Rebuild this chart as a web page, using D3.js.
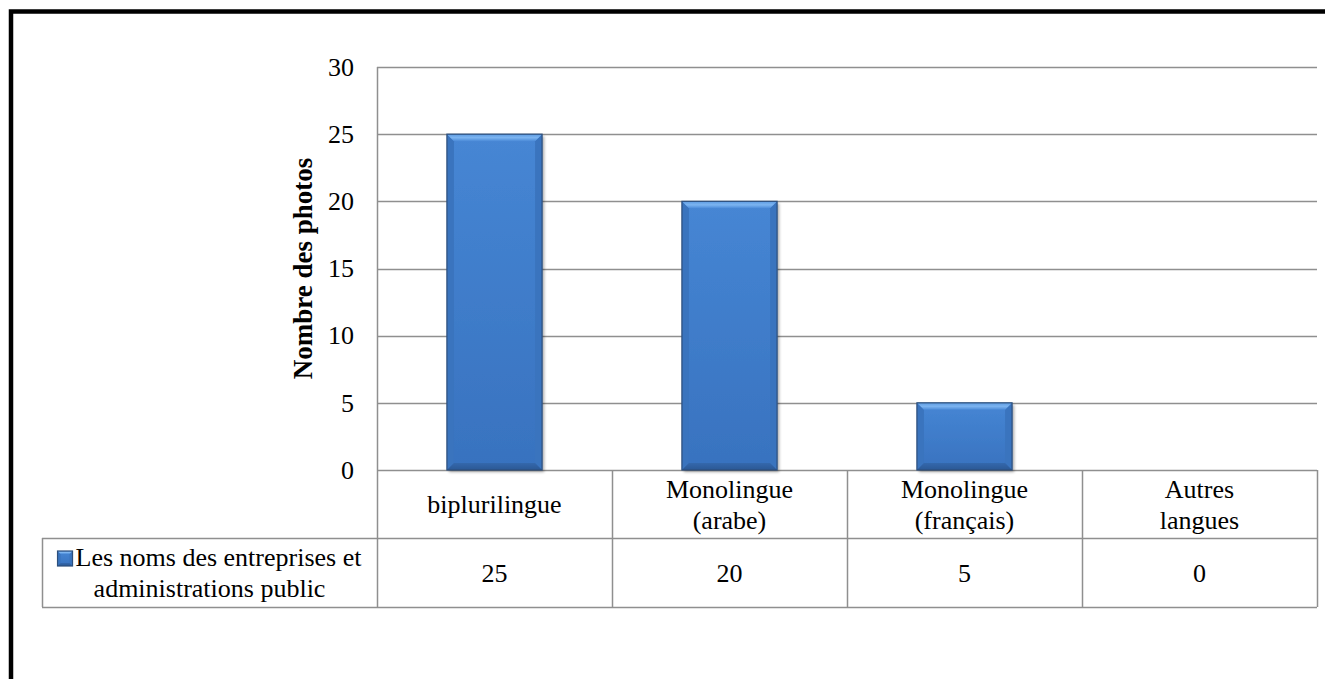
<!DOCTYPE html>
<html>
<head>
<meta charset="utf-8">
<script src="https://cdn.jsdelivr.net/npm/d3@7/dist/d3.min.js"></script>
<style>
  html, body { margin: 0; padding: 0; background: #ffffff; }
  svg { display: block; }
</style>
</head>
<body>
<svg id="chart" width="1325" height="679" font-family="'Liberation Serif', 'Times New Roman', serif"></svg>
<script>
// Chart data
const categories = ["biplurilingue", "Monolingue\n(arabe)", "Monolingue\n(français)", "Autres\nlangues"];
const values = [25, 20, 5, 0];
const seriesName = "Les noms des entreprises et\nadministrations public";
const yTicks = [0, 5, 10, 15, 20, 25, 30];
const yTitle = "Nombre des photos";

const SERIF = "'Liberation Serif', 'Times New Roman', serif";
const svg = d3.select("#chart");
const W = 1325, H = 679;

// Layout
const plot = { left: 377, right: 1317, top: 67, bottom: 470 };
const rowH = 68;            // height of each table row
const legendLeft = 42;      // left edge of the series-name cell
const fontSize = 26;
const lineH = 31;
const gridColor = "#8f8f8f";

const x = d3.scaleBand().domain(categories).range([plot.left, plot.right]).paddingInner(0).paddingOuter(0);
const y = d3.scaleLinear().domain([0, 30]).range([plot.bottom, plot.top]);

// Outer frame (thick black border along top and left)
svg.append("rect")
  .attr("x", 11).attr("y", 11.5)
  .attr("width", W + 20).attr("height", H + 20)
  .attr("fill", "none").attr("stroke", "#000").attr("stroke-width", 4.5);

// Gradients for the bevelled bars
const defs = svg.append("defs");
const g1 = defs.append("linearGradient").attr("id", "barFill").attr("x1", 0).attr("y1", 0).attr("x2", 0).attr("y2", 1);
g1.append("stop").attr("offset", "0%").attr("stop-color", "#4686d4");
g1.append("stop").attr("offset", "100%").attr("stop-color", "#3872bf");
const gTop = defs.append("linearGradient").attr("id", "bevelTop").attr("x1", 0).attr("y1", 0).attr("x2", 0).attr("y2", 1);
gTop.append("stop").attr("offset", "0%").attr("stop-color", "#5d9be2");
gTop.append("stop").attr("offset", "50%").attr("stop-color", "#7cb4f0");
gTop.append("stop").attr("offset", "100%").attr("stop-color", "#4a8ad8");
const gBot = defs.append("linearGradient").attr("id", "bevelBot").attr("x1", 0).attr("y1", 0).attr("x2", 0).attr("y2", 1);
gBot.append("stop").attr("offset", "0%").attr("stop-color", "#3468ad");
gBot.append("stop").attr("offset", "100%").attr("stop-color", "#2b5894");
const shadow = defs.append("filter").attr("id", "barShadow").attr("x", "-10%").attr("y", "-10%").attr("width", "130%").attr("height", "130%");
shadow.append("feGaussianBlur").attr("in", "SourceAlpha").attr("stdDeviation", 1.5).attr("result", "b");
shadow.append("feOffset").attr("in", "b").attr("dx", 1.5).attr("dy", 1.5).attr("result", "o");
shadow.append("feComponentTransfer").attr("in", "o").attr("result", "s")
  .append("feFuncA").attr("type", "linear").attr("slope", 0.35);
const merge = shadow.append("feMerge");
merge.append("feMergeNode").attr("in", "s");
merge.append("feMergeNode").attr("in", "SourceGraphic");

// Horizontal gridlines
svg.append("g").selectAll("line")
  .data(yTicks)
  .join("line")
  .attr("x1", plot.left).attr("x2", plot.right)
  .attr("y1", d => Math.round(y(d)) + 0.5).attr("y2", d => Math.round(y(d)) + 0.5)
  .attr("stroke", gridColor).attr("stroke-width", 1.5);

// Y axis tick labels
const yAxis = svg.append("g")
  .attr("transform", `translate(${plot.left},0)`)
  .call(d3.axisLeft(y).tickValues(yTicks).tickSize(0).tickPadding(23).tickFormat(d3.format("d")));
yAxis.attr("font-family", SERIF).attr("font-size", fontSize);
yAxis.select(".domain").remove();
yAxis.selectAll("text").attr("fill", "#000");

// Y axis title
svg.append("text")
  .attr("transform", `translate(312,${(plot.top + plot.bottom) / 2}) rotate(-90)`)
  .attr("text-anchor", "middle")
  .attr("font-family", SERIF)
  .attr("font-size", 27).attr("font-weight", "bold")
  .text(yTitle);

// Bevelled bar drawing
function drawBar(g, bx, by, bw, bh, b) {
  g.append("rect").attr("x", bx).attr("y", by).attr("width", bw).attr("height", bh)
    .attr("fill", "url(#barFill)").attr("filter", "url(#barShadow)");
  const bb = Math.min(b, bh / 2);
  // left and right faces
  g.append("polygon")
    .attr("points", [[bx, by], [bx + bb, by + bb], [bx + bb, by + bh - bb], [bx, by + bh]].join(" "))
    .attr("fill", "#3a74be");
  g.append("polygon")
    .attr("points", [[bx + bw, by], [bx + bw - bb, by + bb], [bx + bw - bb, by + bh - bb], [bx + bw, by + bh]].join(" "))
    .attr("fill", "#3a74be");
  // top face (light)
  g.append("polygon")
    .attr("points", [[bx, by], [bx + bw, by], [bx + bw - bb, by + bb], [bx + bb, by + bb]].join(" "))
    .attr("fill", "url(#bevelTop)");
  // bottom face (dark)
  g.append("polygon")
    .attr("points", [[bx, by + bh], [bx + bw, by + bh], [bx + bw - bb, by + bh - bb], [bx + bb, by + bh - bb]].join(" "))
    .attr("fill", "url(#bevelBot)");
  g.append("rect").attr("x", bx).attr("y", by).attr("width", bw).attr("height", bh)
    .attr("fill", "none").attr("stroke", "#2d4f7c").attr("stroke-width", 1.2);
}

// Bars
const barW = x.bandwidth() * 0.405;
const barsG = svg.append("g");
categories.forEach((c, i) => {
  const v = values[i];
  if (v <= 0) return;
  const bx = x(c) + (x.bandwidth() - barW) / 2;
  const by = y(v);
  drawBar(barsG, bx, by, barW, y(0) - by, 7);
});

// Data table below the plot
const row1Top = plot.bottom, row1Bot = plot.bottom + rowH, row2Bot = plot.bottom + 2 * rowH + 1;
const tbl = svg.append("g").attr("stroke", gridColor).attr("stroke-width", 1.5).attr("fill", "none");
// vertical axis line, through the table
tbl.append("line").attr("x1", plot.left + 0.5).attr("x2", plot.left + 0.5).attr("y1", plot.top).attr("y2", row2Bot);
// column dividers
tbl.selectAll(".col").data(categories).join("line")
  .attr("x1", d => Math.round(x(d) + x.bandwidth()) + 0.5)
  .attr("x2", d => Math.round(x(d) + x.bandwidth()) + 0.5)
  .attr("y1", row1Top).attr("y2", row2Bot);
// row lines
tbl.append("line").attr("x1", legendLeft).attr("x2", plot.right).attr("y1", row1Bot + 0.5).attr("y2", row1Bot + 0.5);
tbl.append("line").attr("x1", legendLeft).attr("x2", plot.right).attr("y1", row2Bot + 0.5).attr("y2", row2Bot + 0.5);
tbl.append("line").attr("x1", legendLeft + 0.5).attr("x2", legendLeft + 0.5).attr("y1", row1Bot).attr("y2", row2Bot);

// Multi-line centred text helper
function multiLine(g, cx, cy, str) {
  const lines = str.split("\n");
  const t = g.append("text").attr("text-anchor", "middle")
    .attr("font-family", SERIF).attr("font-size", fontSize).attr("fill", "#000");
  lines.forEach((ln, k) => {
    t.append("tspan").attr("x", cx)
      .attr("y", cy + (k - (lines.length - 1) / 2) * lineH + 9)
      .text(ln);
  });
  return t;
}

// Category labels
const labelsG = svg.append("g");
categories.forEach(c => multiLine(labelsG, x(c) + x.bandwidth() / 2, (row1Top + row1Bot) / 2, c));

// Values row
categories.forEach((c, i) => {
  labelsG.append("text")
    .attr("x", x(c) + x.bandwidth() / 2)
    .attr("y", (row1Bot + row2Bot) / 2 + 9)
    .attr("text-anchor", "middle")
    .attr("font-family", SERIF).attr("font-size", fontSize).attr("fill", "#000")
    .text(d3.format("d")(values[i]));
});

// Series-name cell with legend key
const legendLines = seriesName.split("\n");
const lcx = (legendLeft + plot.left) / 2;
const lcy = (row1Bot + row2Bot) / 2;
const keySize = 15;
const legendG = svg.append("g");
legendLines.forEach((ln, k) => {
  const ty = lcy + (k - (legendLines.length - 1) / 2) * lineH + 9;
  const t = legendG.append("text").attr("text-anchor", "middle")
    .attr("font-family", SERIF).attr("font-size", fontSize).attr("fill", "#000")
    .attr("x", lcx).attr("y", ty).text(ln);
  if (k === 0) {
    // first line carries the legend key in front of the series name
    const tw = t.node().getComputedTextLength();
    const total = tw + keySize + 3;
    const startX = lcx - total / 2;
    t.attr("text-anchor", "start").attr("x", startX + keySize + 3);
    const kg = legendG.append("g");
    drawBar(kg, startX, ty - keySize, keySize, keySize, 3);
    kg.selectAll("rect").attr("filter", null);
  }
});
</script>
</body>
</html>
